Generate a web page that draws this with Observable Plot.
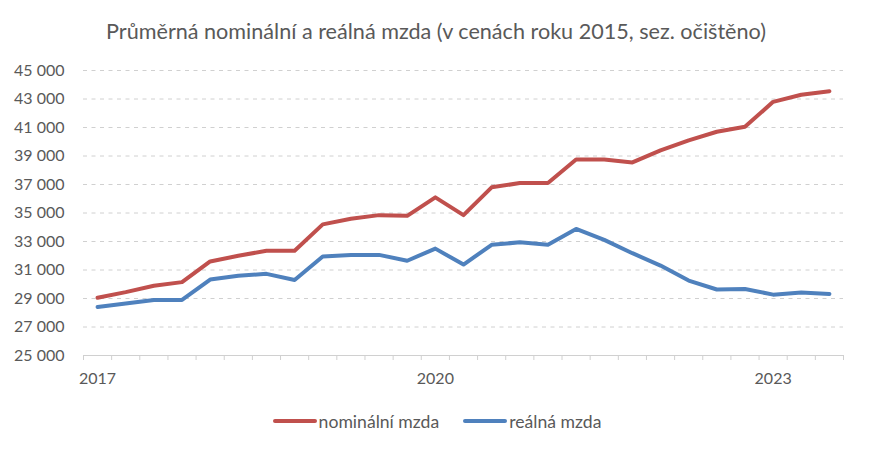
<!DOCTYPE html>
<html>
<head>
<meta charset="utf-8">
<script src="https://cdn.jsdelivr.net/npm/d3@7"></script>
<script src="https://cdn.jsdelivr.net/npm/@observablehq/plot@0.6"></script>
<style>
  html, body { margin: 0; padding: 0; background: #fff; }
  body { width: 870px; height: 450px; overflow: hidden; font-family: Lato, "Open Sans", sans-serif; color: #595959; }
  #title { height: 52px; line-height: 62px; text-align: center; font-size: 21.6px; padding-left: 2px; white-space: nowrap; }
  #chart svg { display: block; }
  #legend { display: flex; justify-content: center; align-items: center; height: 52px; font-size: 17.6px; padding-left: 4px; }
  .item { display: flex; align-items: center; margin: 0 12px; }
  .swatch { width: 44px; height: 4.5px; border-radius: 2px; margin-right: 2px; }
</style>
</head>
<body>
<div id="title">Průměrná nominální a reálná mzda (v cenách roku 2015, sez. očištěno)</div>
<div id="chart"></div>
<div id="legend"></div>
<script>
// Quarterly average wage, 2017 Q1 – 2023 Q3 (CZK)
const quarters = [
  "2017Q1","2017Q2","2017Q3","2017Q4",
  "2018Q1","2018Q2","2018Q3","2018Q4",
  "2019Q1","2019Q2","2019Q3","2019Q4",
  "2020Q1","2020Q2","2020Q3","2020Q4",
  "2021Q1","2021Q2","2021Q3","2021Q4",
  "2022Q1","2022Q2","2022Q3","2022Q4",
  "2023Q1","2023Q2","2023Q3"
];
const nominal = [
  29050, 29450, 29900, 30150,
  31600, 32000, 32350, 32350,
  34200, 34600, 34850, 34800,
  36100, 34850, 36800, 37100,
  37100, 38750, 38750, 38550,
  39400, 40100, 40700, 41050,
  42800, 43300, 43550
];
const real = [
  28400, 28650, 28900, 28900,
  30330, 30600, 30730, 30300,
  31950, 32060, 32060, 31650,
  32500, 31380, 32770, 32940,
  32780, 33880, 33110, 32180,
  31310, 30260, 29630, 29670,
  29270, 29420, 29320
];
const seriesNames = ["nominální mzda", "reálná mzda"];
const seriesColors = ["#C0504D", "#4F81BD"];
const yTicks = [25000, 27000, 29000, 31000, 33000, 35000, 37000, 39000, 41000, 43000, 45000];
const yearLabels = {0: "2017", 12: "2020", 24: "2023"};

const rows = [];
quarters.forEach((q, i) => {
  rows.push({i, q, value: nominal[i], series: seriesNames[0]});
  rows.push({i, q, value: real[i], series: seriesNames[1]});
});

const fmt = v => d3.format(",")(v).replace(/,/g, " ");
const boundaries = d3.range(quarters.length + 1).map(k => k - 0.5);

const chart = Plot.plot({
  width: 870,
  height: 343,
  marginLeft: 83,
  marginRight: 27,
  marginTop: 18,
  marginBottom: 40,
  style: {fontFamily: "Lato, 'Open Sans', sans-serif", fontSize: "16px", color: "#595959", background: "#fff"},
  x: {domain: [-0.5, quarters.length - 0.5]},
  y: {domain: [25000, 45000]},
  marks: [
    Plot.gridY(yTicks.slice(1), {stroke: "#d0d0d0", strokeOpacity: 1, strokeWidth: 1, strokeDasharray: "4,4.5"}),
    Plot.ruleY([25000], {stroke: "#d0d0d0", strokeWidth: 1}),
    Plot.axisY({ticks: yTicks, tickSize: 0, tickPadding: 19, tickFormat: fmt, fontSize: 16, label: null}),
    Plot.axisX({ticks: boundaries, tickSize: 5, tickFormat: () => "", stroke: "#d0d0d0", strokeOpacity: 1, label: null}),
    Plot.axisX({ticks: Object.keys(yearLabels).map(Number), tickSize: 0, tickPadding: 17, tickFormat: d => yearLabels[d], fontSize: 16, label: null}),
    Plot.line(rows.filter(d => d.series === seriesNames[0]), {x: "i", y: "value", stroke: seriesColors[0], strokeWidth: 4, strokeLinejoin: "round", strokeLinecap: "round"}),
    Plot.line(rows.filter(d => d.series === seriesNames[1]), {x: "i", y: "value", stroke: seriesColors[1], strokeWidth: 4, strokeLinejoin: "round", strokeLinecap: "round"})
  ]
});
document.getElementById("chart").appendChild(chart);

const legend = document.getElementById("legend");
seriesNames.forEach((name, k) => {
  const item = document.createElement("div");
  item.className = "item";
  const sw = document.createElement("span");
  sw.className = "swatch";
  sw.style.background = seriesColors[k];
  const label = document.createElement("span");
  label.textContent = name;
  item.appendChild(sw);
  item.appendChild(label);
  legend.appendChild(item);
});
</script>
</body>
</html>
